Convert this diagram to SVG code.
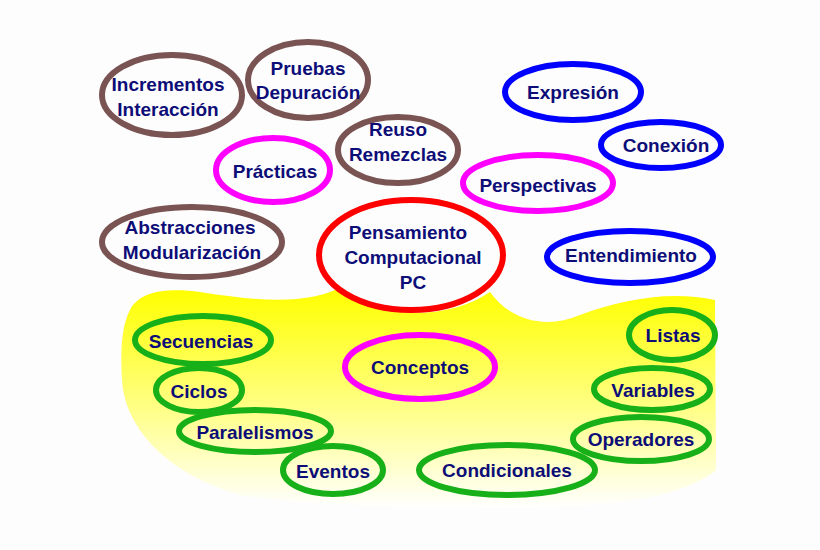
<svg xmlns="http://www.w3.org/2000/svg" width="820" height="550" viewBox="0 0 820 550">
<defs>
<linearGradient id="yg" x1="0" y1="0" x2="0" y2="1">
<stop offset="0" stop-color="#ffff00"/><stop offset="0.55" stop-color="#ffff88"/><stop offset="1" stop-color="#ffffff"/>
</linearGradient>
</defs>
<style>
.e{fill:none;stroke-width:6}
.br{stroke:#7a5353}.mg{stroke:#ff00ff}.bl{stroke:#0000ff}.gr{stroke:#18b018}.rd{stroke:#ff0000}
text{font-family:"Liberation Sans",Arial,sans-serif;font-weight:bold;font-size:19px;fill:#0d0d78;text-anchor:middle}
</style>
<rect width="820" height="550" fill="#fdfdfd"/>
<path d="M130,310 C140,290 170,288 200,292 C250,300 300,305 335,290 L345,290 C380,320 450,320 490,292 C510,320 545,330 580,315 C620,300 670,290 715,300 L716,470 C680,500 600,508 500,508 C400,508 300,505 240,495 C170,475 125,430 122,380 C120,350 122,325 130,310 Z" fill="url(#yg)"/>
<g id="incrementos"><ellipse class="e br" cx="172" cy="95" rx="70" ry="40"/><text x="168" y="91">Incrementos</text><text x="168" y="116">Interacción</text></g>
<g id="pruebas"><ellipse class="e br" cx="308" cy="80" rx="60" ry="38"/><text x="308" y="75">Pruebas</text><text x="308" y="99">Depuración</text></g>
<g id="reuso"><ellipse class="e br" cx="398" cy="150" rx="60" ry="33"/><text x="398" y="136">Reuso</text><text x="398" y="161">Remezclas</text></g>
<g id="practicas"><ellipse class="e mg" cx="273" cy="170" rx="57" ry="32"/><text x="275" y="178">Prácticas</text></g>
<g id="abstracciones"><ellipse class="e br" cx="192" cy="242" rx="90" ry="35"/><text x="190" y="234">Abstracciones</text><text x="192" y="259">Modularización</text></g>
<g id="pc"><ellipse class="e rd" cx="411" cy="255" rx="92" ry="55"/><text x="408" y="239">Pensamiento</text><text x="413" y="264">Computacional</text><text x="413" y="289">PC</text></g>
<g id="expresion"><ellipse class="e bl" cx="573" cy="92" rx="68" ry="28"/><text x="573" y="99">Expresión</text></g>
<g id="conexion"><ellipse class="e bl" cx="661" cy="145" rx="60" ry="23"/><text x="666" y="152">Conexión</text></g>
<g id="perspectivas"><ellipse class="e mg" cx="538" cy="183" rx="75" ry="28"/><text x="538" y="192">Perspectivas</text></g>
<g id="entendimiento"><ellipse class="e bl" cx="630" cy="257" rx="83" ry="26"/><text x="631" y="262">Entendimiento</text></g>
<g id="conceptos"><ellipse class="e mg" cx="420" cy="367" rx="75" ry="32"/><text x="420" y="374">Conceptos</text></g>
<g id="secuencias"><ellipse class="e gr" cx="203" cy="340" rx="68" ry="24"/><text x="201" y="348">Secuencias</text></g>
<g id="ciclos"><ellipse class="e gr" cx="199" cy="390" rx="43" ry="22"/><text x="199" y="398">Ciclos</text></g>
<g id="paralelismos"><ellipse class="e gr" cx="255" cy="431" rx="76" ry="21"/><text x="255" y="439">Paralelismos</text></g>
<g id="eventos"><ellipse class="e gr" cx="333" cy="470" rx="50" ry="24"/><text x="333" y="478">Eventos</text></g>
<g id="condicionales"><ellipse class="e gr" cx="507" cy="470" rx="88" ry="25"/><text x="507" y="477">Condicionales</text></g>
<g id="listas"><ellipse class="e gr" cx="672" cy="335" rx="43" ry="25"/><text x="673" y="342">Listas</text></g>
<g id="variables"><ellipse class="e gr" cx="652" cy="389" rx="58" ry="21"/><text x="653" y="397">Variables</text></g>
<g id="operadores"><ellipse class="e gr" cx="641" cy="439" rx="68" ry="22"/><text x="641" y="446">Operadores</text></g>
<g id="connectors"/>
</svg>
